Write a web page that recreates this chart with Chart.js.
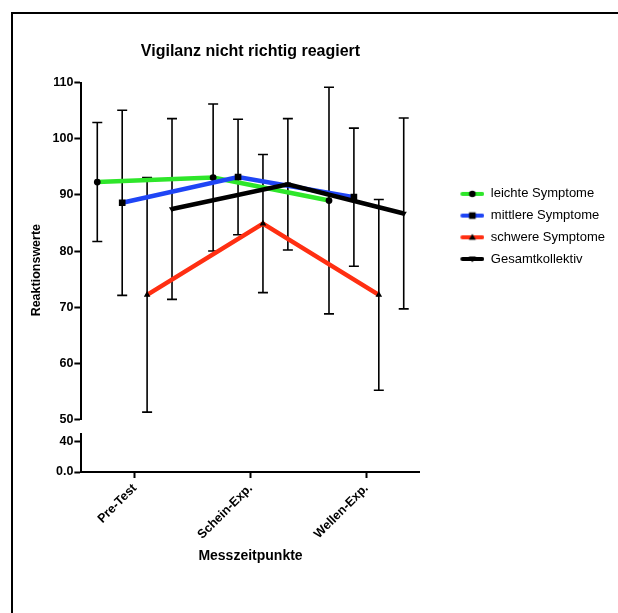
<!DOCTYPE html>
<html>
<head>
<meta charset="utf-8">
<script src="https://cdn.jsdelivr.net/npm/chart.js@4.4.1/dist/chart.umd.min.js"></script>
<style>
  html, body { margin: 0; padding: 0; background: #fff; overflow: hidden; }
  #rahmen { position: absolute; left: 11px; top: 12px; width: 700px; height: 700px;
            border-left: 2px solid #000; border-top: 2px solid #000; }
  #grafik { position: absolute; left: 0; top: 0; }
</style>
</head>
<body>
<div id="rahmen"></div>
<canvas id="grafik" width="618" height="613"></canvas>
<script>
// Messzeitpunkte (x-Kategorien)
const kategorien = ["Pre-Test", "Schein-Exp.", "Wellen-Exp."];

// Mittelwerte und Standardabweichungen je Gruppe
const leichteMW = [92.3, 93.1, 89.0];
const leichteSD = [10.6, 13.1, 20.2];
const mittlereMW = [88.6, 93.2, 89.6];
const mittlereSD = [16.5, 10.3, 12.3];
const schwereMW = [72.2, 84.9, 72.2];
const schwereSD = [20.9, 12.3, 17.0];
const gesamtMW = [87.5, 91.9, 86.7];
const gesamtSD = [16.1, 11.7, 17.0];

// Achsenbeschriftungen (unterbrochene y-Achse)
const obereTicks = [50, 60, 70, 80, 90, 100, 110];
const untereTicks = [0, 20, 40, 50];
const untereTickTexte = ["0.0", "20", "40", ""];

// seitlicher Versatz der Gruppen je Kategorie
const versatz = [-0.3225, -0.1075, 0.1075, 0.3225];

const schrift = "'Liberation Sans', Arial, sans-serif";
Chart.defaults.font.family = schrift;
Chart.defaults.color = "#000";

function punkte(werte, gruppe) {
  return werte.map((w, i) => ({ x: i + 1 + versatz[gruppe], y: w }));
}

// kleine Legendensymbole: Linie mit Marker
function symbol(farbe, form) {
  const c = document.createElement("canvas");
  c.width = 56;
  c.height = 12;
  const g = c.getContext("2d");
  g.strokeStyle = farbe;
  g.lineWidth = 4;
  g.lineCap = "round";
  g.beginPath();
  g.moveTo(34, 6);
  g.lineTo(54, 6);
  g.stroke();
  g.fillStyle = "#000";
  g.beginPath();
  if (form === "kreis") {
    g.arc(44, 6, 3.3, 0, Math.PI * 2);
  } else if (form === "quadrat") {
    g.rect(40.7, 2.7, 6.6, 6.6);
  } else if (form === "dreieck") {
    g.moveTo(44, 2.5); g.lineTo(47.5, 8.5); g.lineTo(40.5, 8.5);
  } else {
    g.moveTo(44, 9.5); g.lineTo(47.5, 3.5); g.lineTo(40.5, 3.5);
  }
  g.fill();
  return c;
}

const legendenSymbole = [
  symbol("#2ee62a", "kreis"),
  symbol("#1f45f5", "quadrat"),
  symbol("#ff2f12", "dreieck"),
  symbol("#000", "dreieckUnten")
];

const fehlerbalken = {
  id: "fehlerbalken",
  beforeDatasetsDraw(chart) {
    const ctx = chart.ctx;
    const y = chart.scales.y;
    ctx.save();
    ctx.strokeStyle = "#000";
    ctx.lineWidth = 1.6;
    chart.data.datasets.forEach((ds, i) => {
      const meta = chart.getDatasetMeta(i);
      meta.data.forEach((p, j) => {
        const mw = ds.data[j].y;
        const oben = y.getPixelForValue(mw + ds.sd[j]);
        const unten = y.getPixelForValue(mw - ds.sd[j]);
        ctx.beginPath();
        ctx.moveTo(p.x, oben);
        ctx.lineTo(p.x, unten);
        ctx.moveTo(p.x - 5, oben);
        ctx.lineTo(p.x + 5, oben);
        ctx.moveTo(p.x - 5, unten);
        ctx.lineTo(p.x + 5, unten);
        ctx.stroke();
      });
    });
    ctx.restore();
  }
};

const achsenStil = {
  border: { display: true, color: "#000", width: 2 },
  grid: { drawOnChartArea: false, drawTicks: true, tickLength: 7, tickWidth: 2, tickColor: "#000" }
};

new Chart(document.getElementById("grafik"), {
  type: "line",
  data: {
    datasets: [
      { label: "leichte Symptome", data: punkte(leichteMW, 0), sd: leichteSD, order: 3,
        borderColor: "#2ee62a", pointStyle: "circle", pointRadius: 3.4 },
      { label: "mittlere Symptome", data: punkte(mittlereMW, 1), sd: mittlereSD, order: 2,
        borderColor: "#1f45f5", pointStyle: "rect", pointRadius: 4.7 },
      { label: "schwere Symptome", data: punkte(schwereMW, 2), sd: schwereSD, order: 1,
        borderColor: "#ff2f12", pointStyle: "triangle", pointRadius: 3.8 },
      { label: "Gesamtkollektiv", data: punkte(gesamtMW, 3), sd: gesamtSD, order: 0,
        borderColor: "#000", pointStyle: "triangle", pointRotation: 180, pointRadius: 3.6 }
    ].map(ds => Object.assign(ds, {
      xAxisID: "x",
      yAxisID: "y",
      borderWidth: 4.5,
      pointBackgroundColor: "#000",
      pointBorderColor: "#000",
      pointBorderWidth: 0,
      fill: false,
      tension: 0
    }))
  },
  options: {
    responsive: false,
    animation: false,
    layout: { padding: { left: 20, right: 3, top: 0, bottom: 48 } },
    plugins: {
      tooltip: { enabled: false },
      title: {
        display: true,
        text: "Vigilanz nicht richtig reagiert",
        fullSize: false,
        font: { size: 16, weight: "bold" },
        padding: { top: 42, bottom: 21.5 }
      },
      legend: {
        position: "right",
        align: "start",
        fullSize: false,
        maxWidth: 260,
        title: { display: true, text: " ", font: { size: 10 }, padding: { top: 0, bottom: 84 } },
        labels: {
          usePointStyle: true,
          pointStyleWidth: 56,
          padding: 8.7,
          font: { size: 13 },
          generateLabels(chart) {
            return chart.data.datasets.map((ds, i) => ({
              text: ds.label,
              pointStyle: legendenSymbole[i],
              datasetIndex: i,
              lineWidth: 0,
              fillStyle: "rgba(0,0,0,0)",
              strokeStyle: "rgba(0,0,0,0)",
              fontColor: "#000",
              hidden: false
            }));
          }
        }
      }
    },
    scales: {
      x: Object.assign({
        type: "linear",
        min: 0.54,
        max: 3.46,
        afterBuildTicks(axis) {
          axis.ticks = kategorien.map((k, i) => ({ value: i + 1 }));
        },
        ticks: {
          minRotation: 45,
          maxRotation: 45,
          padding: 3,
          font: { size: 12.5, weight: "bold" },
          callback: (v, i) => kategorien[i]
        },
        title: {
          display: true,
          text: "Messzeitpunkte",
          font: { size: 14, weight: "bold" },
          padding: { top: 3, bottom: 0 }
        }
      }, achsenStil, { grid: Object.assign({}, achsenStil.grid, { tickLength: 6 }) }),
      yUnten: Object.assign({
        type: "linear",
        position: "left",
        stack: "links",
        stackWeight: 37.4,
        min: 0,
        max: 50,
        afterBuildTicks(axis) {
          axis.ticks = untereTicks.map(v => ({ value: v }));
        },
        ticks: {
          padding: 1,
          font: { size: 12.5, weight: "bold" },
          callback: (v, i) => untereTickTexte[i]
        }
      }, achsenStil),
      yLuecke: {
        type: "linear",
        position: "left",
        stack: "links",
        stackWeight: 15,
        display: false
      },
      y: Object.assign({
        type: "linear",
        position: "left",
        stack: "links",
        stackWeight: 335.6,
        min: 50,
        max: 110,
        afterBuildTicks(axis) {
          axis.ticks = obereTicks.map(v => ({ value: v }));
        },
        ticks: {
          padding: 1,
          font: { size: 12.5, weight: "bold" }
        },
        title: {
          display: true,
          text: "Reaktionswerte           ",
          font: { size: 12.5, weight: "bold" },
          padding: { top: 9, bottom: 7.5 }
        }
      }, achsenStil)
    }
  },
  plugins: [fehlerbalken]
});
</script>
</body>
</html>
